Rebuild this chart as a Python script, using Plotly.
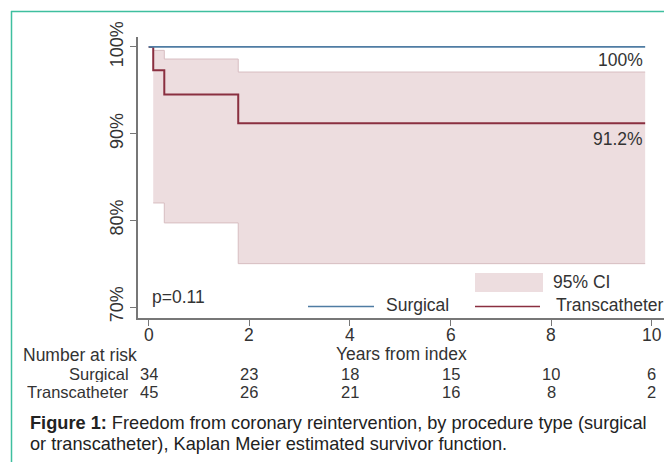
import plotly.graph_objects as go

# ---- data ----
surg_t = [0, 9.87]
surg_s = [1.0, 1.0]
trans_t = [0, 0.09, 0.31, 1.78, 9.87]
trans_s = [1.0, 0.973, 0.945, 0.912, 0.912]
ci_t = [0.09, 0.31, 1.78, 9.87]
ci_hi = [0.996, 0.986, 0.971, 0.971]
ci_lo = [0.820, 0.797, 0.750, 0.750]
x_ticks = [0, 2, 4, 6, 8, 10]
y_ticks = [0.7, 0.8, 0.9, 1.0]
y_tick_labels = ["70%", "80%", "90%", "100%"]
risk_surgical = [34, 23, 18, 15, 10, 6]
risk_trans = [45, 26, 21, 16, 8, 2]
final_surg_label = "100%"
final_trans_label = "91.2%"
p_text = "p=0.11"

# ---- layout geometry (pixels) ----
W, H = 664, 462
L, R, T, B = 138, 664, 37, 318
def px(x):
    return (x - L) / (R - L)
def py(y):
    return (B - y) / (B - T)

FONT = "Liberation Sans, Arial, sans-serif"
TXT = "#333333"
FILL = "#eddddf"
CI_LINE = "#d7bdc1"
RED = "#8a2f40"
BLUE = "#4f7ca3"
FS = 17.5
FT = 16.5  # risk-table font

fig = go.Figure()
fig.add_trace(go.Scatter(x=ci_t, y=ci_hi, mode="lines", line=dict(color=CI_LINE, width=1, shape="hv"),
                         showlegend=False, hoverinfo="skip"))
fig.add_trace(go.Scatter(x=ci_t, y=ci_lo, mode="lines", line=dict(color=CI_LINE, width=1, shape="hv"),
                         fill="tonexty", fillcolor=FILL, showlegend=False, hoverinfo="skip"))
fig.add_trace(go.Scatter(x=trans_t, y=trans_s, mode="lines", line=dict(color=RED, width=2, shape="hv"),
                         name="Transcatheter", showlegend=False))
fig.add_trace(go.Scatter(x=surg_t, y=surg_s, mode="lines", line=dict(color=BLUE, width=1.6, shape="hv"),
                         name="Surgical", showlegend=False))

def txt(x, y, s, anchor="left", xref="paper", size=FS, color=TXT, h=None):
    d = dict(x=x, y=y, xref=xref, yref="paper", text=s, showarrow=False,
             xanchor=anchor, yanchor="middle", font=dict(size=size, color=color, family=FONT))
    if h is not None:
        d.update(height=h, borderpad=0, valign="middle")
    return d

ann = []
ann.append(txt(surg_t[-1], py(60), final_surg_label, "right", "x"))
ann.append(txt(trans_t[-1], py(139), final_trans_label, "right", "x"))
ann.append(txt(px(150), py(297), p_text))
ann.append(txt(px(551), py(282), "95% CI"))
ann.append(txt(px(384), py(305), "Surgical"))
ann.append(txt(px(554), py(305), "Transcatheter"))
for xv in x_ticks:
    ann.append(txt(xv, py(334.5), str(xv), "center", "x", h=16))
ann.append(txt(0.5, py(354), "Years from index", "center", h=16))
ann.append(txt(px(22), py(355), "Number at risk", size=FS, h=16))
ann.append(txt(px(130), py(374), "Surgical", "right", size=FT, h=16))
ann.append(txt(px(130), py(392), "Transcatheter", "right", size=FT, h=16))
for xv, n1, n2 in zip(x_ticks, risk_surgical, risk_trans):
    ann.append(txt(xv, py(374), str(n1), "center", "x", size=FT, h=16))
    ann.append(txt(xv, py(392), str(n2), "center", "x", size=FT, h=16))
ann.append(txt(px(28), py(423),
               "<b>Figure 1:</b> Freedom from coronary reintervention, by procedure type (surgical",
               size=18.2, color="#222222"))
ann.append(txt(px(28), py(444), "or transcatheter), Kaplan Meier estimated survivor function.",
               size=18.2, color="#222222"))

shapes = [
    dict(type="rect", xref="paper", yref="paper", x0=px(475), x1=px(543), y0=py(273), y1=py(292),
         fillcolor=FILL, line=dict(width=0)),
    dict(type="line", xref="paper", yref="paper", x0=px(308), x1=px(374), y0=py(306.5), y1=py(306.5),
         line=dict(color=BLUE, width=1.3)),
    dict(type="line", xref="paper", yref="paper", x0=px(475), x1=px(540), y0=py(306.5), y1=py(306.5),
         line=dict(color=RED, width=1.3)),
    dict(type="line", xref="paper", yref="paper", x0=px(11), x1=px(700), y0=py(11.5), y1=py(11.5),
         line=dict(color="#3fbf9f", width=1.5)),
    dict(type="line", xref="paper", yref="paper", x0=px(11.5), x1=px(11.5), y0=py(11), y1=py(480),
         line=dict(color="#3fbf9f", width=1.5)),
]

x_lo = -10.7 / 50.3
x_hi = x_lo + (R - L) / 50.3
y_lo = 0.70 - 11 / 867
y_hi = y_lo + (B - T) / 867

fig.update_layout(
    width=W, height=H,
    margin=dict(l=L, r=W - R, t=T, b=H - B),
    paper_bgcolor="white", plot_bgcolor="white",
    showlegend=False,
    annotations=ann, shapes=shapes,
    xaxis=dict(range=[x_lo, x_hi], tickvals=x_ticks, ticks="outside", ticklen=6, tickwidth=1,
               tickcolor="#777777", showline=True, linecolor="#777777", linewidth=1.5,
               showticklabels=False, showgrid=False, zeroline=False),
    yaxis=dict(range=[y_lo, y_hi], tickvals=y_ticks, ticktext=y_tick_labels, tickangle=-90,
               ticks="outside", ticklen=6, tickwidth=1, tickcolor="#777777",
               showline=True, linecolor="#777777", linewidth=1.5,
               showgrid=False, zeroline=False, tickfont=dict(size=18, color=TXT, family=FONT)),
)

fig.write_html("out.html", config={"displayModeBar": False},
               post_script="document.body.style.margin='0';document.body.style.overflow='hidden';")
